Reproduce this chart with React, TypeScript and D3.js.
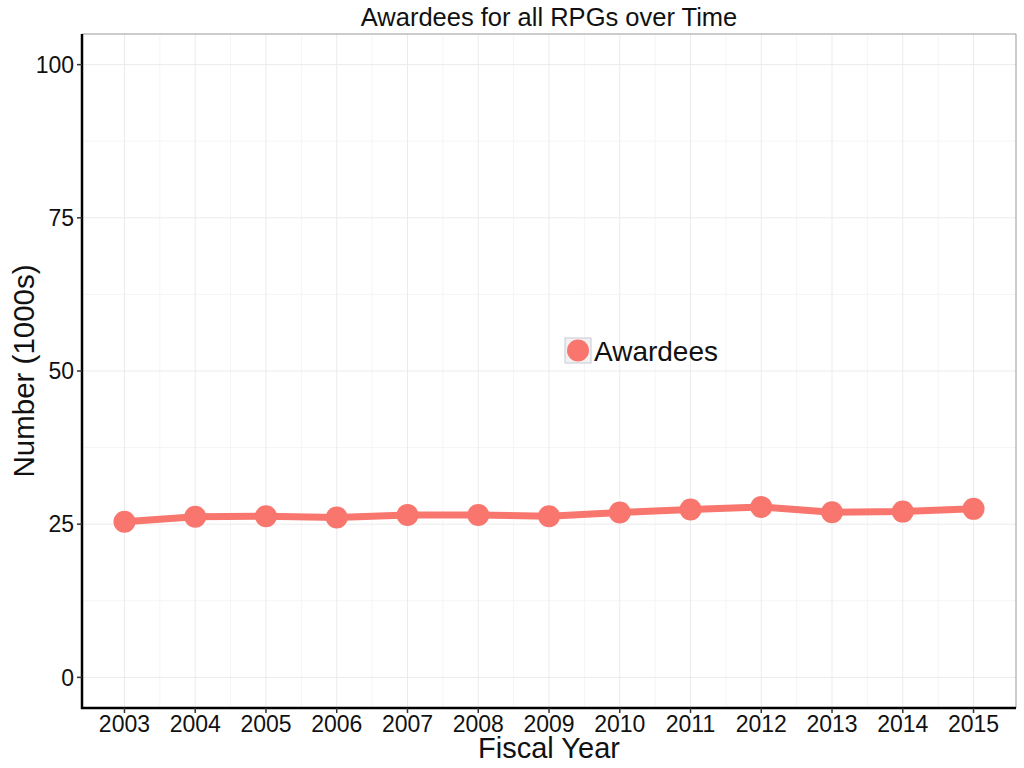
import React from "react";
import * as d3 from "d3";

const years = [2003, 2004, 2005, 2006, 2007, 2008, 2009, 2010, 2011, 2012, 2013, 2014, 2015];
const awardees = [25.4, 26.2, 26.3, 26.1, 26.5, 26.5, 26.3, 26.9, 27.4, 27.8, 26.95, 27.05, 27.5];
const yTicks = [0, 25, 50, 75, 100];
const yMinor = [12.5, 37.5, 62.5, 87.5];
const seriesName = "Awardees";

const W = 1024, H = 768;
const left = 82, right = 1016, top = 34, bottom = 708;
const color = "#F8766D";
const font = "Liberation Sans, Arial, sans-serif";

export default function App() {
  const x = d3.scaleLinear().domain([2002.4, 2015.6]).range([left, right]);
  const y = d3.scaleLinear().domain([-5, 105]).range([bottom, top]);
  const xMinor = years.slice(0, -1).map((v) => v + 0.5);
  const line = d3.line<number>().x((_, i) => x(years[i])).y((d) => y(d));
  return (
    <svg width={W} height={H} style={{ position: "absolute", left: 0, top: 0 }} fontFamily={font}>
      <rect x={0} y={0} width={W} height={H} fill="#fff" />
      {xMinor.map((v) => (
        <line key={"xm" + v} x1={x(v)} x2={x(v)} y1={top} y2={bottom} stroke="#f5f5f5" strokeWidth={1} />
      ))}
      {yMinor.map((v) => (
        <line key={"ym" + v} x1={left} x2={right} y1={y(v)} y2={y(v)} stroke="#f5f5f5" strokeWidth={1} />
      ))}
      {years.map((v) => (
        <line key={"xg" + v} x1={x(v)} x2={x(v)} y1={top} y2={bottom} stroke="#ebebeb" strokeWidth={1} />
      ))}
      {yTicks.map((v) => (
        <line key={"yg" + v} x1={left} x2={right} y1={y(v)} y2={y(v)} stroke="#ebebeb" strokeWidth={1} />
      ))}
      <line x1={left} x2={right} y1={top} y2={top} stroke="#999" strokeWidth={1} />
      <line x1={right} x2={right} y1={top} y2={bottom} stroke="#999" strokeWidth={1} />
      <path d={line(awardees) || ""} fill="none" stroke={color} strokeWidth={7} strokeLinejoin="round" />
      {awardees.map((v, i) => (
        <circle key={i} cx={x(years[i])} cy={y(v)} r={11} fill={color} />
      ))}
      <line x1={left} x2={left} y1={top} y2={bottom + 1} stroke="#000" strokeWidth={2.5} />
      <line x1={left - 1} x2={right} y1={bottom} y2={bottom} stroke="#000" strokeWidth={2.5} />
      {yTicks.map((v) => (
        <g key={"yt" + v}>
          <line x1={left - 5} x2={left} y1={y(v)} y2={y(v)} stroke="#333" strokeWidth={1.5} />
          <text x={left - 8} y={y(v)} dy="0.36em" textAnchor="end" fontSize={23} fill="#111">{v}</text>
        </g>
      ))}
      {years.map((v) => (
        <g key={"xt" + v}>
          <line x1={x(v)} x2={x(v)} y1={bottom} y2={bottom + 5} stroke="#333" strokeWidth={1.5} />
          <text x={x(v)} y={732} textAnchor="middle" fontSize={23} fill="#111">{v}</text>
        </g>
      ))}
      <text x={(left + right) / 2} y={26} textAnchor="middle" fontSize={25.5} fill="#111">Awardees for all RPGs over Time</text>
      <text x={(left + right) / 2} y={758} textAnchor="middle" fontSize={29} fill="#111">Fiscal Year</text>
      <text transform={`translate(34,${(top + bottom) / 2}) rotate(-90)`} textAnchor="middle" fontSize={29.5} fill="#111">Number (1000s)</text>
      <rect x={565} y={338} width={26} height={25} fill="#f2f2f2" stroke="#c8c8d8" strokeWidth={1} />
      <circle cx={578} cy={350.5} r={11} fill={color} />
      <text x={594} y={361} fontSize={28} fill="#111">{seriesName}</text>
    </svg>
  );
}
